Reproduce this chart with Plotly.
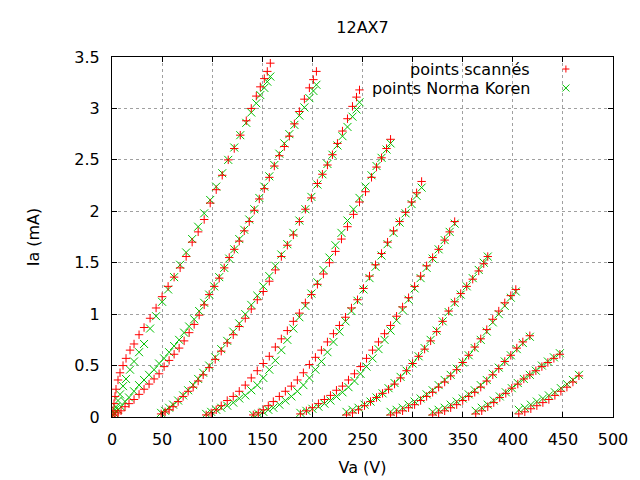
import plotly.graph_objects as go

# ---------------- text ----------------
title_text = "12AX7"
x_title = "Va (V)"
y_title = "Ia (mA)"
legend_scan = "points scannés"
legend_koren = "points Norma Koren"
x_ticks = [0, 50, 100, 150, 200, 250, 300, 350, 400, 450, 500]
y_ticks = [0, 0.5, 1, 1.5, 2, 2.5, 3, 3.5]

# ---------------- data (Va in V, Ia in mA) ----------------
va_c1 = [0, 1, 2, 3, 4, 6, 8, 11, 14, 18, 22, 27, 32, 38, 44, 50, 56, 62, 68, 74, 80, 86, 92, 98,
         104, 110, 116, 122, 128, 134, 139, 144, 148, 152, 155, 158]
ia_scan_c1 = [0.0, 0.06, 0.13, 0.2, 0.27, 0.36, 0.43, 0.5, 0.57, 0.65, 0.71, 0.8, 0.87, 0.96, 1.06, 1.17,
              1.27, 1.36, 1.45, 1.56, 1.7, 1.8, 1.92, 2.08, 2.21, 2.35, 2.5, 2.61, 2.74, 2.88, 3.0, 3.12,
              3.21, 3.29, 3.36, 3.44]
ia_koren_c1 = [0.0, 0.02, 0.04, 0.07, 0.1, 0.16, 0.22, 0.3, 0.37, 0.46, 0.54, 0.63, 0.71, 0.86, 0.98, 1.12,
               1.24, 1.36, 1.48, 1.6, 1.73, 1.85, 1.98, 2.11, 2.24, 2.37, 2.5, 2.62, 2.74, 2.86, 2.96, 3.05,
               3.13, 3.2, 3.26, 3.31]

va_c2 = [3, 6, 9, 13, 17, 22, 27, 32, 37, 42, 47, 52, 57, 62, 67, 72, 77, 82, 87, 92, 97, 102, 107, 112,
         117, 122, 127, 132, 137, 142, 147, 152, 157, 162, 167, 172, 177, 182, 187, 192, 197, 201, 204]
ia_scan_c2 = [0.02, 0.04, 0.06, 0.1, 0.13, 0.17, 0.22, 0.27, 0.32, 0.37, 0.42, 0.49, 0.55, 0.61, 0.67,
              0.74, 0.82, 0.9, 0.99, 1.09, 1.19, 1.27, 1.35, 1.45, 1.55, 1.63, 1.71, 1.81, 1.9, 2.01,
              2.12, 2.22, 2.33, 2.44, 2.54, 2.63, 2.73, 2.85, 2.97, 3.09, 3.2, 3.28, 3.36]
ia_koren_c2 = [0.03, 0.07, 0.1, 0.15, 0.19, 0.25, 0.31, 0.36, 0.41, 0.46, 0.52, 0.57, 0.63, 0.69, 0.75,
               0.82, 0.88, 0.95, 1.03, 1.11, 1.19, 1.27, 1.36, 1.45, 1.54, 1.63, 1.73, 1.82, 1.92, 2.02,
               2.13, 2.24, 2.34, 2.45, 2.56, 2.66, 2.75, 2.84, 2.93, 3.01, 3.1, 3.17, 3.23]

va_c3 = [49, 53, 57, 61, 66, 71, 76, 81, 86, 91, 97, 103, 109, 115, 121, 127, 133, 139, 145, 151, 157,
         163, 169, 175, 181, 187, 193, 199, 205, 210, 215, 220, 225, 230, 235, 240, 244, 247]
ia_scan_c3 = [0.03, 0.05, 0.07, 0.1, 0.15, 0.2, 0.25, 0.29, 0.35, 0.41, 0.48, 0.56, 0.64, 0.72, 0.8,
              0.88, 0.96, 1.05, 1.14, 1.22, 1.32, 1.43, 1.56, 1.67, 1.77, 1.9, 2.02, 2.13, 2.27, 2.36,
              2.45, 2.55, 2.66, 2.78, 2.9, 3.02, 3.11, 3.18]
ia_koren_c3 = [0.04, 0.06, 0.09, 0.12, 0.16, 0.21, 0.26, 0.31, 0.37, 0.43, 0.5, 0.58, 0.66, 0.74, 0.83,
               0.91, 1.0, 1.09, 1.18, 1.27, 1.37, 1.47, 1.58, 1.68, 1.79, 1.91, 2.02, 2.14, 2.26, 2.36,
               2.46, 2.55, 2.64, 2.73, 2.82, 2.92, 2.99, 3.06]

va_c4 = [94, 99, 104, 109, 115, 121, 127, 133, 139, 145, 151, 157, 163, 169, 175, 181, 187, 193, 199,
         205, 211, 217, 223, 229, 235, 241, 247, 253, 259, 264, 269, 274, 278]
ia_scan_c4 = [0.02, 0.04, 0.07, 0.11, 0.16, 0.2, 0.25, 0.31, 0.38, 0.45, 0.52, 0.59, 0.68, 0.76, 0.84,
              0.93, 1.01, 1.11, 1.19, 1.29, 1.39, 1.5, 1.61, 1.73, 1.85, 1.97, 2.09, 2.19, 2.33, 2.43,
              2.52, 2.61, 2.7]
ia_koren_c4 = [0.03, 0.05, 0.07, 0.09, 0.11, 0.14, 0.18, 0.21, 0.26, 0.31, 0.38, 0.46, 0.55, 0.65, 0.75,
               0.86, 0.97, 1.08, 1.2, 1.31, 1.43, 1.55, 1.67, 1.79, 1.91, 2.02, 2.13, 2.24, 2.35, 2.44,
               2.52, 2.6, 2.66]

va_c5 = [141, 146, 151, 156, 161, 167, 173, 179, 185, 191, 197, 203, 209, 215, 221, 227, 233, 239, 245,
         251, 257, 263, 269, 275, 281, 287, 293, 299, 304, 309]
ia_scan_c5 = [0.02, 0.04, 0.07, 0.11, 0.15, 0.2, 0.25, 0.3, 0.36, 0.43, 0.51, 0.58, 0.65, 0.73, 0.81,
              0.89, 0.97, 1.06, 1.14, 1.25, 1.37, 1.48, 1.59, 1.7, 1.81, 1.9, 1.99, 2.09, 2.18, 2.29]
ia_koren_c5 = [0.02, 0.03, 0.05, 0.07, 0.09, 0.12, 0.16, 0.2, 0.25, 0.31, 0.38, 0.46, 0.54, 0.63, 0.73,
               0.83, 0.93, 1.03, 1.13, 1.24, 1.35, 1.46, 1.57, 1.68, 1.79, 1.89, 1.98, 2.07, 2.15, 2.23]

va_c6 = [188, 194, 200, 206, 212, 218, 224, 230, 236, 242, 248, 254, 260, 266, 272, 278, 284, 290, 296,
         302, 308, 314, 320, 326, 332, 337, 342]
ia_scan_c6 = [0.03, 0.06, 0.09, 0.13, 0.17, 0.21, 0.26, 0.3, 0.36, 0.42, 0.49, 0.57, 0.65, 0.73, 0.81,
              0.89, 0.98, 1.07, 1.16, 1.27, 1.37, 1.47, 1.55, 1.63, 1.72, 1.8, 1.9]
ia_koren_c6 = [0.04, 0.06, 0.08, 0.1, 0.13, 0.16, 0.2, 0.24, 0.29, 0.35, 0.42, 0.49, 0.57, 0.66, 0.75,
               0.84, 0.94, 1.04, 1.14, 1.25, 1.35, 1.45, 1.54, 1.63, 1.72, 1.8, 1.88]

va_c7 = [234, 240, 246, 252, 258, 264, 270, 276, 282, 288, 294, 300, 306, 312, 318, 324, 330, 336, 342,
         348, 354, 360, 366, 371, 375]
ia_scan_c7 = [0.02, 0.04, 0.07, 0.11, 0.15, 0.19, 0.23, 0.27, 0.32, 0.38, 0.45, 0.52, 0.59, 0.66, 0.74,
              0.83, 0.93, 1.03, 1.12, 1.2, 1.27, 1.34, 1.42, 1.49, 1.56]
ia_koren_c7 = [0.05, 0.07, 0.09, 0.12, 0.15, 0.19, 0.23, 0.28, 0.33, 0.39, 0.45, 0.52, 0.59, 0.67, 0.75,
               0.84, 0.93, 1.02, 1.11, 1.19, 1.27, 1.35, 1.43, 1.5, 1.56]

va_c8 = [278, 284, 290, 296, 302, 308, 314, 320, 326, 332, 338, 344, 350, 356, 362, 368, 374, 380, 386,
         392, 398, 403]
ia_scan_c8 = [0.02, 0.04, 0.06, 0.09, 0.12, 0.16, 0.2, 0.24, 0.29, 0.34, 0.4, 0.46, 0.53, 0.6, 0.68,
              0.76, 0.85, 0.95, 1.03, 1.11, 1.18, 1.24]
ia_koren_c8 = [0.05, 0.07, 0.09, 0.12, 0.15, 0.18, 0.22, 0.26, 0.31, 0.36, 0.41, 0.47, 0.53, 0.6, 0.67,
               0.75, 0.83, 0.92, 1.0, 1.08, 1.16, 1.22]

va_c9 = [320, 326, 332, 338, 344, 350, 356, 362, 368, 374, 380, 386, 392, 398, 404, 410, 417]
ia_scan_c9 = [0.02, 0.04, 0.06, 0.09, 0.12, 0.16, 0.2, 0.24, 0.29, 0.35, 0.41, 0.47, 0.54, 0.6, 0.67,
              0.73, 0.79]
ia_koren_c9 = [0.05, 0.07, 0.09, 0.12, 0.15, 0.18, 0.22, 0.26, 0.31, 0.36, 0.42, 0.48, 0.54, 0.6, 0.66,
               0.72, 0.78]

va_c10 = [363, 369, 375, 381, 387, 393, 399, 405, 411, 417, 423, 429, 435, 441, 447]
ia_scan_c10 = [0.03, 0.06, 0.1, 0.14, 0.19, 0.23, 0.28, 0.32, 0.37, 0.41, 0.45, 0.49, 0.53, 0.57, 0.61]
ia_koren_c10 = [0.06, 0.09, 0.12, 0.16, 0.2, 0.24, 0.28, 0.33, 0.37, 0.41, 0.45, 0.5, 0.54, 0.58, 0.62]

va_c11 = [406, 412, 418, 424, 430, 436, 442, 448, 454, 460, 466]
ia_scan_c11 = [0.03, 0.05, 0.08, 0.11, 0.14, 0.17, 0.21, 0.25, 0.29, 0.34, 0.4]
ia_koren_c11 = [0.07, 0.09, 0.12, 0.15, 0.18, 0.21, 0.24, 0.28, 0.32, 0.36, 0.41]

va_curves = [va_c1, va_c2, va_c3, va_c4, va_c5, va_c6, va_c7, va_c8, va_c9, va_c10, va_c11]
ia_scan_curves = [ia_scan_c1, ia_scan_c2, ia_scan_c3, ia_scan_c4, ia_scan_c5, ia_scan_c6,
                  ia_scan_c7, ia_scan_c8, ia_scan_c9, ia_scan_c10, ia_scan_c11]
ia_koren_curves = [ia_koren_c1, ia_koren_c2, ia_koren_c3, ia_koren_c4, ia_koren_c5, ia_koren_c6,
                   ia_koren_c7, ia_koren_c8, ia_koren_c9, ia_koren_c10, ia_koren_c11]

va_all = [v for c in va_curves for v in c]
ia_scan_all = [i for c in ia_scan_curves for i in c]
ia_koren_all = [i for c in ia_koren_curves for i in c]

RED = "#ff0000"
GREEN = "#00c000"
FONT = "DejaVu Sans"

fig = go.Figure()
fig.add_trace(go.Scatter(
    x=va_all, y=ia_koren_all, mode="markers", name=legend_koren,
    marker=dict(symbol="x-thin", size=8, color=GREEN, line=dict(width=1, color=GREEN)),
    hoverinfo="skip"))
fig.add_trace(go.Scatter(
    x=va_all, y=ia_scan_all, mode="markers", name=legend_scan,
    marker=dict(symbol="cross-thin", size=6, color=RED, line=dict(width=1, color=RED)),
    hoverinfo="skip"))

axis_common = dict(
    ticks="inside", ticklen=5, tickcolor="black", tickwidth=1,
    showline=True, mirror="ticks", linecolor="black", linewidth=1,
    showgrid=True, gridcolor="#a0a0a0", gridwidth=1, griddash="3px,3px",
    zeroline=False, automargin=False,
    tickfont=dict(family=FONT, size=16, color="black"),
)

# the page body adds an 8 px offset, so the margins are shifted by 8 px
fig.update_layout(
    width=640, height=480,
    margin=dict(l=104, r=35, t=49, b=71, pad=0, autoexpand=False),
    paper_bgcolor="white", plot_bgcolor="white",
    showlegend=False,
    font=dict(family=FONT, size=16, color="black"),
    title=dict(text=title_text, x=0.5, xref="paper", xanchor="center",
               y=1 - 19 / 480, yref="container", yanchor="middle",
               font=dict(family=FONT, size=16, color="black")),
    xaxis=dict(range=[0, 500], tickvals=x_ticks, ticklabelstandoff=8,
               title=dict(text=x_title, standoff=13, font=dict(family=FONT, size=16)),
               **axis_common),
    yaxis=dict(range=[0, 3.5], tickvals=y_ticks, ticklabelstandoff=8,
               title=dict(text=y_title, standoff=30, font=dict(family=FONT, size=16)),
               **axis_common),
)

# key (gnuplot style: text right-aligned, sample on the right)
key_rows = [(legend_scan, RED, "plus", 1 - 12 / 360), (legend_koren, GREEN, "x", 1 - 31 / 360)]
px_x = 1 / 501.0
px_y = 1 / 360.0
for label, col, kind, yp in key_rows:
    fig.add_annotation(text=label, xref="paper", yref="paper", x=0.838, y=yp,
                       xanchor="right", yanchor="middle", showarrow=False,
                       font=dict(family=FONT, size=16, color="black"))
    cx = 0.906
    h = 3.5
    if kind == "plus":
        path = (f"M {cx - h * px_x},{yp} L {cx + h * px_x},{yp} "
                f"M {cx},{yp - h * px_y} L {cx},{yp + h * px_y}")
    else:
        path = (f"M {cx - h * px_x},{yp - h * px_y} L {cx + h * px_x},{yp + h * px_y} "
                f"M {cx - h * px_x},{yp + h * px_y} L {cx + h * px_x},{yp - h * px_y}")
    fig.add_shape(type="path", path=path, xref="paper", yref="paper",
                  line=dict(color=col, width=1))

fig.write_html("out.html", config={"displayModeBar": False})
